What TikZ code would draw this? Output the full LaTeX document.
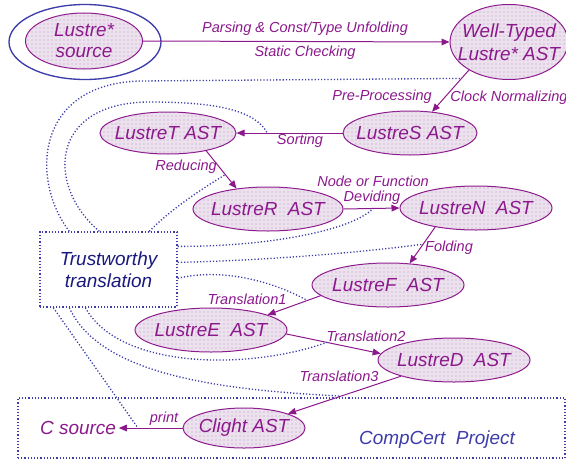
\documentclass[tikz,border=0pt]{standalone}
\usepackage{fontspec}
\setmainfont{Liberation Sans}
\usetikzlibrary{shapes.geometric,arrows.meta,patterns,calc}
\definecolor{lp}{RGB}{140,25,140}
\definecolor{lb}{RGB}{60,60,170}
\definecolor{nb}{RGB}{25,25,125}
\definecolor{lfill}{RGB}{236,226,238}
\begin{document}
\begin{tikzpicture}[x=0.75pt,y=-0.75pt,
  ast/.style={ellipse, draw=lp, line width=0.75pt, fill=lfill,
    postaction={pattern=dots, pattern color=lp!50},
    inner sep=-25pt, text=lp, align=center,
    font=\fontsize{14.2}{17}\selectfont\itshape},
  arr/.style={draw=lp, line width=0.75pt, -{Triangle[length=6pt,width=5pt]}},
  lbl/.style={text=lp, inner sep=0pt, font=\fontsize{10.9}{12}\selectfont\itshape},
  trust/.style={draw=lb, line width=1pt, dash pattern=on 0.9pt off 1.5pt},
  boxd/.style={draw=lb, line width=1pt, dash pattern=on 0.9pt off 1.5pt, rectangle, inner sep=0pt},
]
\useasboundingbox (0,0) rectangle (566,460);

% boxes
\node[boxd, minimum width=410.25pt, minimum height=45pt] (cc) at (291.5,428) {};
\node[text=lb, inner sep=0pt, font=\fontsize{14.2}{17}\selectfont\itshape] (cctext) at (437,440) {CompCert\ \ Project};
\node[boxd, minimum width=102.75pt, minimum height=56.25pt, text=nb, align=center,
  font=\fontsize{14.2}{16.5}\selectfont\itshape] (tt) at (108.5,269.5) {Trustworthy\\translation};

% source
\node[ellipse, draw=lb, line width=1pt, inner sep=-25pt, minimum width=114pt, minimum height=56.25pt] (src) at (85,42) {};
\node[ast, minimum width=87.75pt, minimum height=42pt, font=\fontsize{14.2}{15.75}\selectfont\itshape] (lsrc) at (84,41) {Lustre*\\source};

% AST nodes
\node[ast, minimum width=88.5pt, minimum height=56.25pt] (wt) at (509,42) {Well-Typed\\Lustre* AST};
\node[ast, minimum width=100.5pt, minimum height=33pt] (ls) at (410,133) {LustreS AST};
\node[ast, minimum width=102pt, minimum height=31.5pt] (lt) at (168,133) {LustreT AST};
\node[ast, minimum width=112.5pt, minimum height=33pt] (lr) at (268,209) {LustreR\ \ AST};
\node[ast, minimum width=114pt, minimum height=33pt] (ln) at (476,208) {LustreN\ \ AST};
\node[ast, minimum width=114pt, minimum height=33pt] (lf) at (388,285) {LustreF\ \ AST};
\node[ast, minimum width=114pt, minimum height=33pt] (le) at (211,330) {LustreE\ \ AST};
\node[ast, minimum width=114pt, minimum height=33pt] (ld) at (454,360) {LustreD\ \ AST};
\node[ast, minimum width=91.5pt, minimum height=30pt] (cl) at (244,428) {Clight AST};
\node[text=lp, inner sep=2pt, font=\fontsize{14.2}{17}\selectfont\itshape] (cs) at (78,428) {C source};

% arrows
\draw[arr] (lsrc.east) -- (wt.west);
\draw[arr] (wt.215) -- coordinate[pos=0.2] (cpp) (ls.44);
\draw[arr] (ls.west) -- coordinate[pos=0.71] (csort) (lt.east);
\draw[arr] (lt.-25) -- coordinate[pos=0.63] (cred) (lr.147);
\draw[arr] (lr.east) -- coordinate[pos=0.53] (cdev) (ln.west);
\draw[arr] (ln.205) -- coordinate[pos=0.47] (cfold) (lf.45);
\draw[arr] (lf.189) -- coordinate[pos=0.25] (ct1) (le.15);
\draw[arr] (le.-3) -- coordinate[pos=0.43] (ct2) (ld.175);
\draw[arr] (ld.197) -- coordinate[pos=0.53] (ct3) (cl.18);
\draw[arr] (cl.west) -- coordinate[pos=0.7] (cprint) (cs.east);

% labels
\node[lbl] (l1) at (305,29) {Parsing \& Const/Type Unfolding};
\node[lbl] (l2) at (305,53) {Static Checking};
\node[lbl] (l3) at (382,97) {Pre-Processing};
\node[lbl] (l4) at (509,98) {Clock Normalizing};
\node[lbl] (l5) at (300,141) {Sorting};
\node[lbl] (l6) at (186,167) {Reducing};
\node[lbl] (l7) at (373,181) {Node or Function};
\node[lbl] (l8) at (372,198) {Deviding};
\node[lbl] (l9) at (449,248) {Folding};
\node[lbl] (l10) at (247,299) {Translation1};
\node[lbl] (l11) at (366,336) {Translation2};
\node[lbl] (l12) at (339,376) {Translation3};
\node[lbl] (l13) at (164,419) {print};

% trustworthy connectors
\draw[trust] ($(tt.north west)+(30,0)$) .. controls (30,180) and (35,84) .. (140,81) -- (cpp);
\draw[trust] ($(tt.north west)+(60,0)$) .. controls (45,185) and (50,102) .. (150,102) .. controls (215,102) and (255,110) .. (csort);
\draw[trust] ($(tt.north west)+(110,0)$) .. controls (170,210) and (200,190) .. (cred);
\draw[trust] ($(tt.north east)+(0,15)$) .. controls (260,247) and (350,232) .. (cdev);
\draw[trust] ($(tt.north east)+(0,31)$) .. controls (250,261) and (350,254) .. (cfold);
\draw[trust] ($(tt.north east)+(0,47)$) .. controls (220,268) and (270,280) .. (ct1);
\draw[trust] ($(tt.south west)+(14,0)$) -- (cprint);
\draw[trust] ($(tt.south west)+(30,0)$) .. controls (100,375) and (220,390) .. (ct3);
\draw[trust] ($(tt.south west)+(46,0)$) .. controls (120,370) and (250,370) .. (ct2);
\end{tikzpicture}
\end{document}
